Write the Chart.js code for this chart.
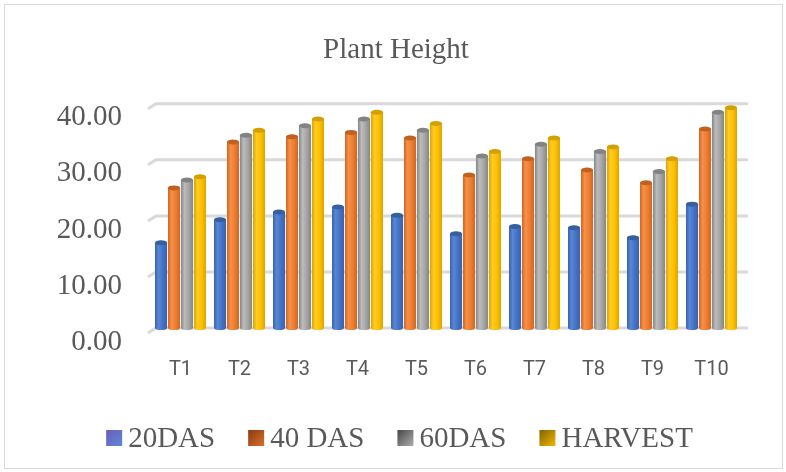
<!DOCTYPE html>
<html>
<head>
<meta charset="utf-8">
<script src="https://cdn.jsdelivr.net/npm/chart.js@4"></script>
<style>
  body { margin: 0; background: #fff; }
  #box { position: absolute; left: 4px; top: 4px; width: 777px; height: 463px; border: 1px solid #d9d9d9; }
</style>
</head>
<body>
<div id="box"><canvas id="myChart" width="777" height="463"></canvas></div>
<script>
var categories = ["T1", "T2", "T3", "T4", "T5", "T6", "T7", "T8", "T9", "T10"];
var das20   = [15.2, 19.3, 20.7, 21.6, 20.1, 16.8, 18.1, 17.9, 16.1, 22.1];
var das40   = [25.0, 33.2, 34.1, 34.9, 33.9, 27.3, 30.2, 28.2, 25.9, 35.5];
var das60   = [26.4, 34.4, 36.1, 37.3, 35.3, 30.7, 32.8, 31.5, 27.9, 38.5];
var harvest = [27.0, 35.3, 37.3, 38.5, 36.5, 31.5, 33.9, 32.3, 30.2, 39.3];
var yTicks  = [0, 10, 20, 30, 40];
var names   = ["20DAS", "40 DAS", "60DAS", "HARVEST"];

// base, dark edge, light highlight, top cap
var shades = [
  ["#4472c4", "#3762b0", "#5a86d4", "#34609f"],
  ["#ed7d31", "#cf6622", "#f69048", "#c2611f"],
  ["#a5a5a5", "#858585", "#bcbcbc", "#838383"],
  ["#ffc000", "#dba500", "#ffcb24", "#d4a000"]
];
// legend swatch gradients (dark corner -> light corner)
var legendCol = [["#6c5fb6", "#5a88dc"], ["#8a3c10", "#dc7030"], ["#4a4a4a", "#b0b0b0"], ["#866500", "#f2bb00"]];

// every bar as a small cylinder, drawn from the bar elements' geometry
var cylinder = {
  id: "cylinder",
  afterDatasetsDraw: function(chart) {
    var ctx = chart.ctx;
    chart.data.datasets.forEach(function(ds, i) {
      var meta = chart.getDatasetMeta(i);
      meta.data.forEach(function(bar) {
        var l = bar.x - bar.width / 2, r = bar.x + bar.width / 2;
        var g = ctx.createLinearGradient(l, 0, r, 0);
        g.addColorStop(0, shades[i][1]);
        g.addColorStop(0.3, shades[i][2]);
        g.addColorStop(0.65, shades[i][0]);
        g.addColorStop(1, shades[i][1]);
        ctx.save();
        ctx.fillStyle = g;
        ctx.fillRect(l, bar.y, bar.width, bar.base - bar.y);
        ctx.beginPath();
        ctx.ellipse(bar.x, bar.base, bar.width / 2, 2, 0, 0, Math.PI);
        ctx.fill();
        ctx.fillStyle = shades[i][3];
        ctx.beginPath();
        ctx.ellipse(bar.x, bar.y, bar.width / 2, 2.5, 0, 0, Math.PI * 2);
        ctx.fill();
        ctx.restore();
      });
    });
  }
};

// gridlines with the slanted 3D floor end on the left
var gridLines = {
  id: "gridLines",
  beforeDatasetsDraw: function(chart) {
    var ctx = chart.ctx, y = chart.scales.y, a = chart.chartArea;
    ctx.save();
    ctx.strokeStyle = "#d9d9d9";
    ctx.lineWidth = 3;
    yTicks.forEach(function(v) {
      var py = y.getPixelForValue(v);
      ctx.beginPath();
      ctx.moveTo(a.left - 3, py + 5);
      ctx.lineTo(a.left + 5, py);
      ctx.lineTo(a.right + 7, py);
      ctx.stroke();
    });
    ctx.restore();
  }
};

// legend row at the bottom
var legendRow = {
  id: "legendRow",
  afterDraw: function(chart) {
    var ctx = chart.ctx;
    ctx.save();
    ctx.font = "29px 'Liberation Serif'";
    ctx.textBaseline = "middle";
    var box = 16, gapIn = 6, gapOut = 33, total = 0;
    var widths = names.map(function(n) { return ctx.measureText(n).width; });
    widths.forEach(function(w) { total += box + gapIn + w; });
    total += gapOut * (names.length - 1);
    var x = (chart.width - total) / 2 + 6, yc = 434;
    names.forEach(function(n, i) {
      var g = ctx.createLinearGradient(x, yc - box / 2, x + box, yc + box / 2);
      g.addColorStop(0, legendCol[i][0]);
      g.addColorStop(1, legendCol[i][1]);
      ctx.fillStyle = g;
      ctx.fillRect(x, yc - box / 2 - 1, box, box);
      ctx.fillStyle = "#595959";
      ctx.fillText(n, x + box + gapIn, yc);
      x += box + gapIn + widths[i] + gapOut;
    });
    ctx.restore();
  }
};

var series = [das20, das40, das60, harvest];

var bieudo = new Chart(document.getElementById("myChart"), {
  type: "bar",
  data: {
    labels: categories,
    datasets: series.map(function(d, i) {
      return {
        label: names[i],
        data: d,
        backgroundColor: "rgba(0,0,0,0)",
        categoryPercentage: 0.88,
        barPercentage: 0.93
      };
    })
  },
  options: {
    responsive: false,
    animation: false,
    layout: { padding: { left: 46, right: 41, top: 0, bottom: 86 } },
    plugins: {
      title: {
        display: true,
        text: "Plant Height",
        color: "#595959",
        font: { family: "Liberation Serif", size: 29, weight: "normal" },
        padding: { top: 28, bottom: 36 }
      },
      legend: { display: false },
      tooltip: { enabled: false }
    },
    scales: {
      x: {
        grid: { display: false, drawTicks: false },
        border: { display: false },
        afterFit: function(axis) { axis.height = 54; },
        ticks: {
          color: "#595959",
          font: { family: "Roboto", size: 20 },
          padding: 30
        }
      },
      y: {
        min: 0,
        max: 40,
        afterBuildTicks: function(axis) {
          axis.ticks = yTicks.map(function(v) { return { value: v }; });
        },
        afterFit: function(axis) { axis.width = 100; },
        grid: { display: false, drawTicks: false },
        border: { display: false },
        ticks: {
          color: "#595959",
          font: { family: "Liberation Serif", size: 29 },
          padding: 29,
          labelOffset: 14,
          callback: function(v) { return Number(v).toFixed(2); }
        }
      }
    }
  },
  plugins: [gridLines, cylinder, legendRow]
});
</script>
</body>
</html>
